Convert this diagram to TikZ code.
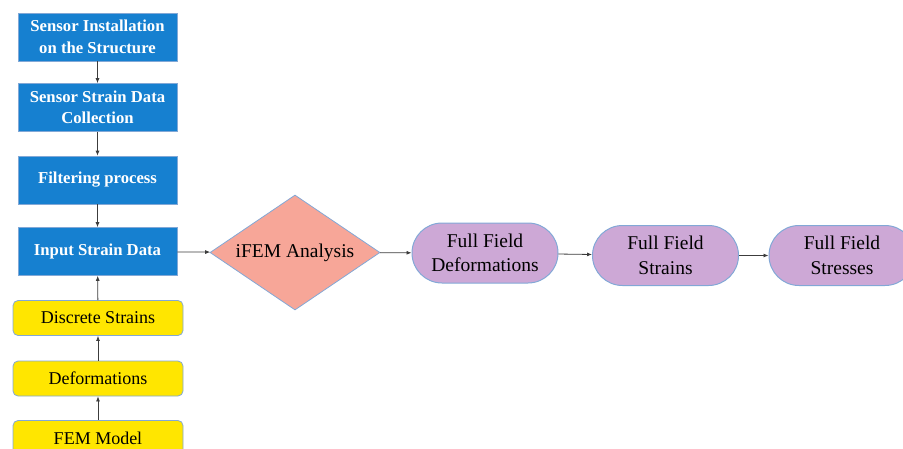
\documentclass[tikz,border=0pt]{standalone}
\usepackage{fontspec}
\setmainfont{Liberation Serif}
\usetikzlibrary{shapes.geometric,shapes.misc,arrows.meta}
\definecolor{bluebox}{RGB}{22,128,208}
\definecolor{yellowbox}{RGB}{255,230,0}
\definecolor{salmon}{RGB}{247,166,152}
\definecolor{lilac}{RGB}{205,168,214}
\definecolor{edgeblue}{RGB}{130,168,214}
\definecolor{arrowgray}{RGB}{60,60,60}
\begin{document}
\begin{tikzpicture}[x=1pt,y=-1pt,
  bluestep/.style={rectangle,fill=bluebox,draw=edgeblue,line width=0.6pt,minimum width=159pt,minimum height=48pt,inner sep=0pt,align=center,text=white,font=\fontsize{16.7}{21.5}\selectfont\bfseries},
  yellowstep/.style={rectangle,rounded corners=5pt,fill=yellowbox,draw=edgeblue,line width=0.8pt,minimum width=170pt,minimum height=35pt,inner sep=0pt,align=center,font=\fontsize{18}{22}\selectfont},
  pillstep/.style={rounded rectangle,fill=lilac,draw=edgeblue,line width=1pt,minimum width=146pt,minimum height=60pt,inner sep=0pt,align=center,font=\fontsize{19.5}{24.5}\selectfont},
  decision/.style={diamond,fill=salmon,draw=edgeblue,line width=0.8pt,minimum width=170pt,minimum height=115pt,inner sep=0pt,aspect=1.48,font=\fontsize{19.5}{24}\selectfont},
  conn/.style={draw=arrowgray,line width=0.8pt,-{Latex[length=5pt,width=4pt]}}
]
\useasboundingbox (0,0) rectangle (903,448);
\clip (0,0) rectangle (903,448);
\node[bluestep] (s1) at (97.5,37) {Sensor Installation\\on the Structure};
\node[bluestep] (s2) at (97.5,107.5) {Sensor Strain Data\\Collection};
\node[bluestep] (s3) at (97.5,180) {Filtering process};
\node[bluestep] (s4) at (97.5,251.5) {Input Strain Data};
\node[yellowstep] (y1) at (98,318) {Discrete Strains};
\node[yellowstep] (y2) at (98,378.5) {Deformations};
\node[yellowstep] (y3) at (98,438) {FEM Model};
\node[decision] (d) at (295,252.5) {iFEM Analysis};
\node[pillstep] (p1) at (485,253) {Full Field\\Deformations};
\node[pillstep] (p2) at (665.5,255.5) {Full Field\\Strains};
\node[pillstep] (p3) at (842,255.5) {Full Field\\Stresses};
\draw[conn] (s1) -- (s2);
\draw[conn] (s2) -- (s3);
\draw[conn] (s3) -- (s4);
\draw[conn] (y1) -- (s4);
\draw[conn] (y2) -- (y1);
\draw[conn] (y3) -- (y2);
\draw[conn] (s4) -- (d);
\draw[conn] (d) -- (p1);
\draw[conn] (p1) -- (p2);
\draw[conn] (p2) -- (p3);
\end{tikzpicture}
\end{document}
